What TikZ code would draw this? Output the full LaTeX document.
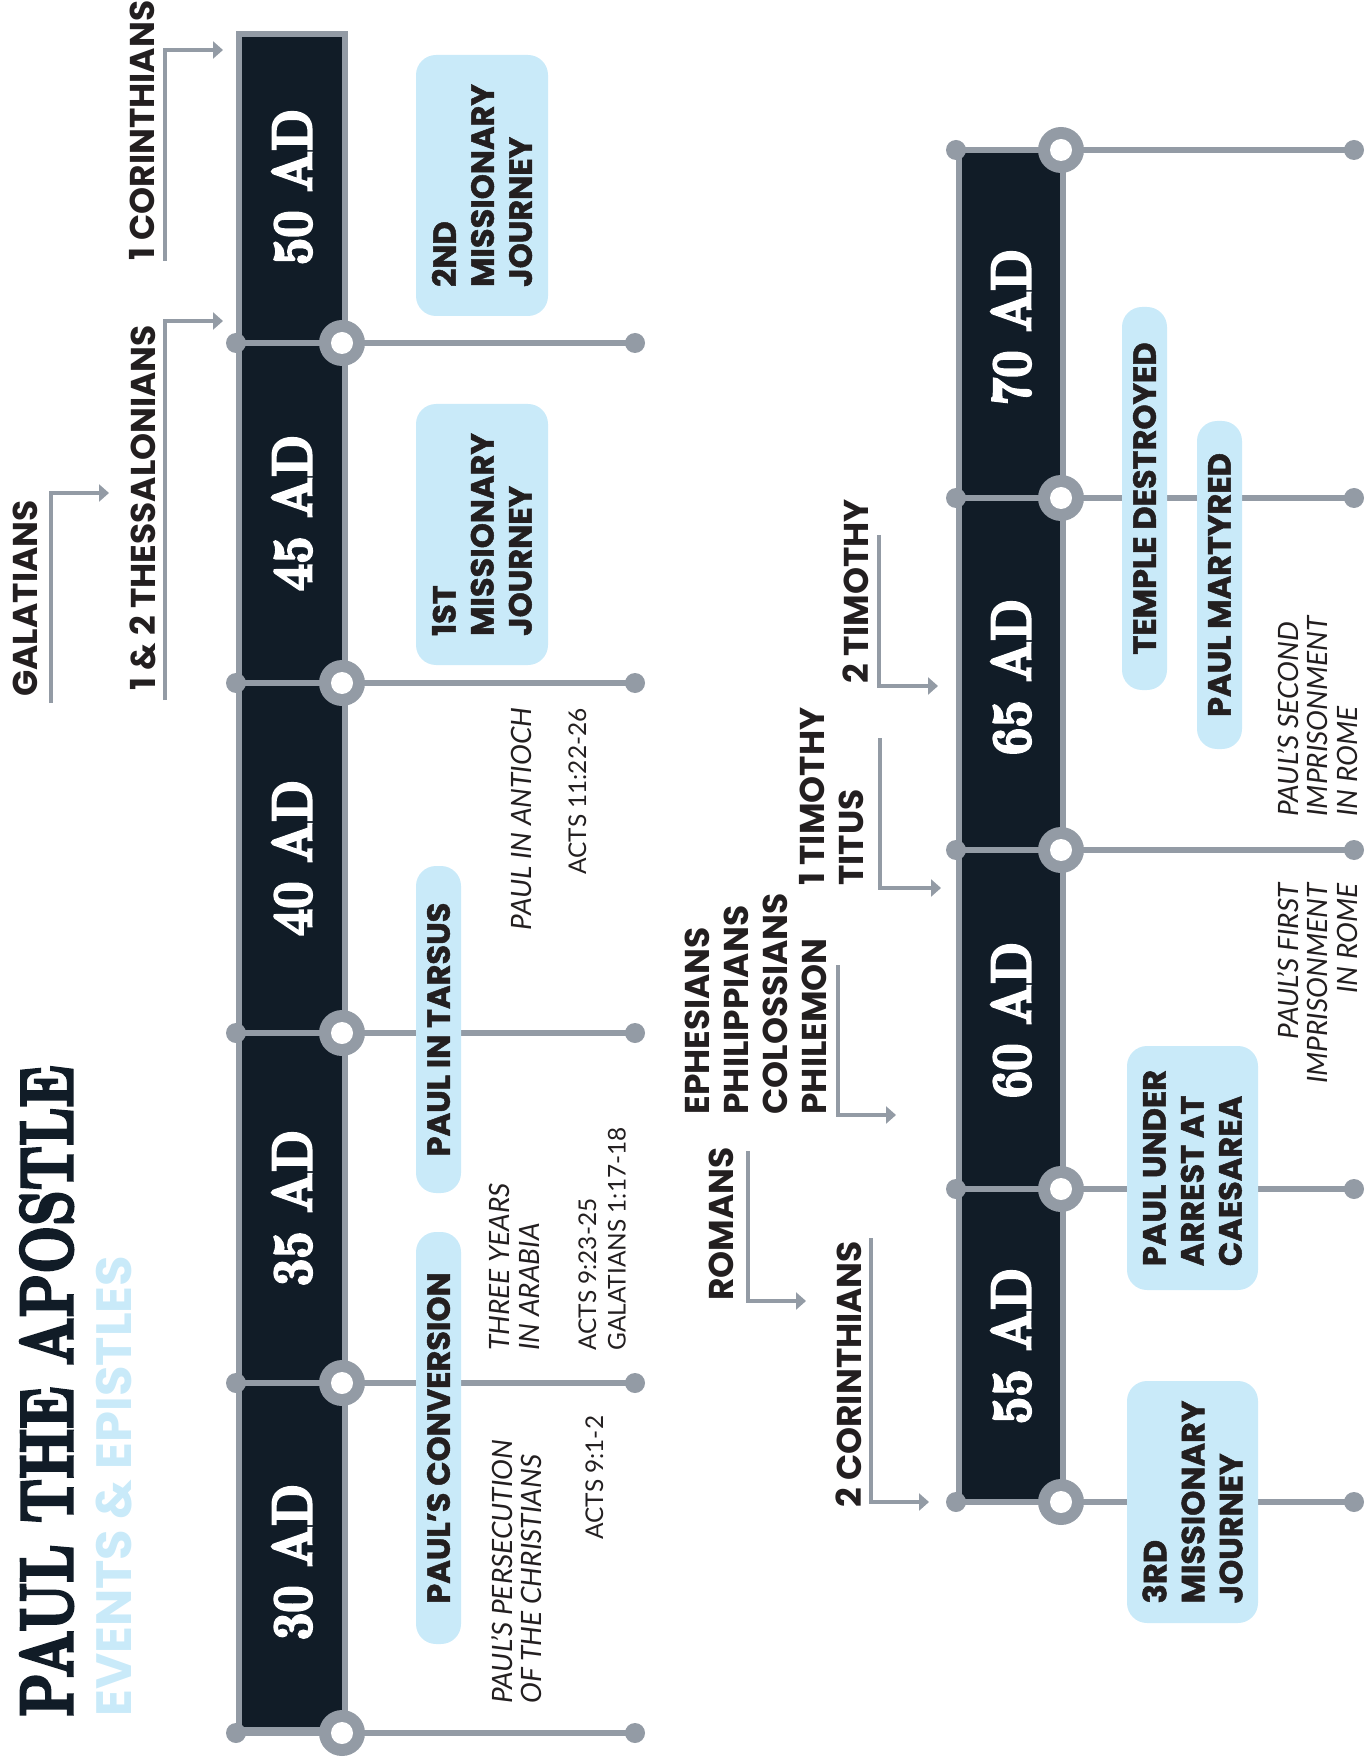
\documentclass[tikz,border=0pt]{standalone}
\usepackage{fontspec}
\setsansfont{Poppins}
\newfontfamily\notefont{Lato}
\newfontfamily\didone{lmroman10-bold.otf}[FakeBold=4.5]
\newfontfamily\heavyfont{Poppins Bold}[FakeBold=1.5]
\usetikzlibrary{arrows.meta}

\definecolor{navy}{HTML}{111C27}
\definecolor{steel}{HTML}{939BA5}
\definecolor{sky}{HTML}{C9EAF9}
\definecolor{ink}{HTML}{231F20}

\tikzstyle{bar} = [fill=navy, draw=steel, line width=3pt]
\tikzstyle{rule} = [draw=steel, line width=3pt]
\tikzstyle{year} = [rotate=90, text=white, inner sep=0pt, font=\didone\fontsize{28}{28}\selectfont]
\tikzstyle{pblock} = [rectangle, fill=sky, rotate=90, rounded corners=10pt, inner sep=0pt, align=left, text=ink, font=\heavyfont\fontsize{16}{19}\selectfont]
\tikzstyle{epistle} = [rotate=90, inner sep=0pt, align=left, anchor=north west, text=ink, font=\sffamily\bfseries\fontsize{17.2}{19.5}\selectfont]
\tikzstyle{note} = [rotate=90, inner sep=0pt, align=left, anchor=north west, text=ink, font=\notefont\itshape\fontsize{14}{14.75}\selectfont]
\tikzstyle{verse} = [note, font=\notefont\fontsize{12.2}{14.75}\selectfont]
\tikzstyle{arrow} = [steel, line width=2pt, ->, >={Triangle[length=5pt, width=8.5pt]}]

\begin{document}
\begin{tikzpicture}[x=0.5pt, y=-0.5pt]
    \useasboundingbox (0,0) rectangle (1364,1764);

    % the two timelines
    \draw[bar] (239,34) rectangle (345,1730);
    \draw[bar] (959,150) rectangle (1063,1502);
    \foreach \yy in {343,683,1033,1383,1733} {
        \draw[rule] (236,\yy) -- (635,\yy);
        \fill[steel] (236,\yy) circle (5pt) (635,\yy) circle (5pt) (342,\yy) circle (11.5pt);
        \fill[white] (342,\yy) circle (5.5pt);
    }
    \foreach \yy in {150,498,850,1189,1502} {
        \draw[rule] (956,\yy) -- (1354,\yy);
        \fill[steel] (956,\yy) circle (5pt) (1354,\yy) circle (5pt) (1061,\yy) circle (11.5pt);
        \fill[white] (1061,\yy) circle (5.5pt);
    }
    \foreach \yy/\yr in {187/50, 513/45, 858/40, 1208/35, 1562/30}
        \node (y\yr) [year] at (292,\yy) {\scalebox{0.85}[1]{\yr\ AD}};
    \foreach \yy/\yr in {327/70, 677/65, 1020/60, 1346/55}
        \node (y\yr) [year] at (1011,\yy) {\scalebox{0.85}[1]{\yr\ AD}};

    % title
    \node (node1) [rotate=90, anchor=north west, inner sep=0pt, text=navy, font=\didone\fontsize{37}{37}\selectfont] at (20,1717) {\scalebox{0.75}[1]{PAUL THE APOSTLE}};
    \node (node2) [rotate=90, anchor=north west, inner sep=0pt, text=sky, font=\sffamily\bfseries\fontsize{24.8}{24.8}\selectfont] at (96,1717) {EVENTS \& EPISTLES};

    % events
    \node (node3) [pblock, minimum width=130.5pt, minimum height=66pt] at (482,185.5) {2ND\\MISSIONARY\\JOURNEY};
    \node (node4) [pblock, minimum width=130.5pt, minimum height=66pt] at (482,534.5) {1ST\\MISSIONARY\\JOURNEY};
    \node (node5) [pblock, minimum width=163.5pt, minimum height=22.5pt] at (438.5,1029.5) {PAUL IN TARSUS};
    \node (node6) [pblock, minimum width=206pt, minimum height=22.5pt] at (438.5,1438) {PAUL’S CONVERSION};
    \node (node7) [pblock, minimum width=191.5pt, minimum height=22.5pt] at (1144.5,498.5) {TEMPLE DESTROYED};
    \node (node8) [pblock, minimum width=164pt, minimum height=22.5pt] at (1219.5,585) {PAUL MARTYRED};
    \node (node9) [pblock, minimum width=122pt, minimum height=65.5pt] at (1192.5,1168) {PAUL UNDER\\ARREST AT\\CAESAREA};
    \node (node10) [pblock, minimum width=121pt, minimum height=65.5pt] at (1192.5,1502) {3RD\\MISSIONARY\\JOURNEY};

    % notes
    \node (node11) [note, anchor=north east] at (511,707) {PAUL IN ANTIOCH};
    \node (node12) [verse, anchor=north east] at (568,708) {ACTS 11:22-26};
    \node (node13) [note] at (489,1351) {THREE YEARS\\IN ARABIA};
    \node (node14) [verse] at (578,1351) {ACTS 9:23-25\\GALATIANS 1:17-18};
    \node (node15) [note] at (491,1704) {PAUL’S PERSECUTION\\OF THE CHRISTIANS};
    \node (node16) [verse] at (585,1540) {ACTS 9:1-2};
    \node (node17) [note] at (1277,817) {PAUL’S SECOND\\IMPRISONMENT\\IN ROME};
    \node (node18) [note, anchor=north east, align=right] at (1277,883) {PAUL’S FIRST\\IMPRISONMENT\\IN ROME};

    % epistles
    \node (node19) [epistle] at (13,697) {GALATIANS};
    \node (node20) [epistle] at (129,691) {1 \& 2 THESSALONIANS};
    \node (node21) [epistle] at (129,261) {1 CORINTHIANS};
    \node (node22) [epistle] at (842,684) {2 TIMOTHY};
    \node (node23) [epistle] at (799,886) {1 TIMOTHY\\TITUS};
    \node (node24) [epistle] at (685,1115) {EPHESIANS\\PHILIPPIANS\\COLOSSIANS\\PHILEMON};
    \node (node25) [epistle] at (709,1301) {ROMANS};
    \node (node26) [epistle] at (835,1508) {2 CORINTHIANS};

    \coordinate (a19) at (51,703);   \coordinate (b19) at (109,493);
    \coordinate (a20) at (165,700);  \coordinate (b20) at (223,321);
    \coordinate (a21) at (165,261);  \coordinate (b21) at (223,50);
    \coordinate (a22) at (879,535);  \coordinate (b22) at (938,686);
    \coordinate (a23) at (880,738);  \coordinate (b23) at (941,888);
    \coordinate (a24) at (838,965);  \coordinate (b24) at (896,1115);
    \coordinate (a25) at (748,1151); \coordinate (b25) at (806,1301);
    \coordinate (a26) at (871,1238); \coordinate (b26) at (929,1502);
    \foreach \n in {19,...,26}
        \draw[arrow] (a\n) |- (b\n);
\end{tikzpicture}
\end{document}
